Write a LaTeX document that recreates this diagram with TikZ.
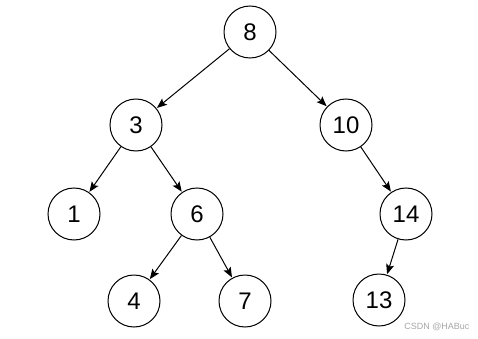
\documentclass[tikz,border=0pt]{standalone}
\usepackage{fontspec}
\setmainfont{Liberation Sans}
\usetikzlibrary{arrows.meta}
\begin{document}
\begin{tikzpicture}[x=1pt,y=-1pt,
  tnode/.style={circle,draw,line width=1pt,minimum size=52pt,inner sep=0pt,font=\fontsize{24}{24}\selectfont},
  edge/.style={line width=1pt,-{Stealth[length=10pt,width=8pt,inset=2pt]},shorten >=0.5pt},
  wm/.style={text=black!35,font=\fontsize{9}{9}\selectfont}]
\useasboundingbox (0,0) rectangle (478,339);
\node[tnode] (n8) at (250,32) {8};
\node[tnode] (n3) at (136,125) {3};
\node[tnode] (n10) at (346,125) {10};
\node[tnode] (n1) at (74,214) {1};
\node[tnode] (n6) at (197,214) {6};
\node[tnode] (n14) at (406,214) {14};
\node[tnode] (n4) at (134,301) {4};
\node[tnode] (n7) at (245,301) {7};
\node[tnode] (n13) at (379,300) {13};
\draw[edge] (n8) -- (n3);
\draw[edge] (n8) -- (n10);
\draw[edge] (n3) -- (n1);
\draw[edge] (n3) -- (n6);
\draw[edge] (n10) -- (n14);
\draw[edge] (n6) -- (n4);
\draw[edge] (n6) -- (n7);
\draw[edge] (n14) -- (n13);
\node[wm,anchor=east] (wm) at (473,327) {CSDN @HABuc};
\end{tikzpicture}
\end{document}
